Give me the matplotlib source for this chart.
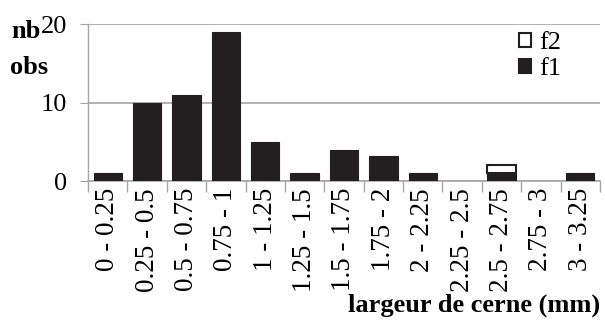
import matplotlib
matplotlib.use("Agg")
import matplotlib.pyplot as plt
import numpy as np

categories = ["0 - 0.25", "0.25 - 0.5", "0.5 - 0.75", "0.75 - 1", "1 - 1.25",
              "1.25 - 1.5", "1.5 - 1.75", "1.75 - 2", "2 - 2.25", "2.25 - 2.5",
              "2.5 - 2.75", "2.75 - 3", "3 - 3.25"]
f1 = [1, 10, 11, 19, 5, 1, 4, 3.2, 1, 0, 1, 0, 1]
f2 = [0, 0, 0, 0, 0, 0, 0, 0, 0, 0, 1, 0, 0]
yticks = [0, 10, 20]

plt.rcParams['font.family'] = ['Liberation Serif', 'DejaVu Serif']
fig = plt.figure(figsize=(6.05, 3.24), dpi=100)
ax = fig.add_axes([88/605, 1-181/324, (600-88)/605, (181-24)/324])

x = np.arange(len(categories))
w = 0.72
lw1 = [0.8 if v > 0 else 0 for v in f1]
lw2 = [1.5 if v > 0 else 0 for v in f2]
ax.bar(x, f1, width=w, color='#231f20', edgecolor='#231f20', linewidth=lw1, label='f1', zorder=3)
ax.bar(x, f2, width=w, bottom=f1, color='white', edgecolor='#231f20', linewidth=lw2, label='f2', zorder=3)

ax.set_xlim(-0.5, len(categories) - 0.5)
ax.set_ylim(0, 20)
ax.set_yticks(yticks)
ax.set_yticklabels([str(v) for v in yticks], fontsize=19)
ax.yaxis.grid(True, color='#a6a6a6', linewidth=1.2, zorder=0)
ax.set_axisbelow(True)
for s in ['top', 'right']:
    ax.spines[s].set_visible(False)
ax.spines['left'].set_color('#a6a6a6')
ax.spines['bottom'].set_color('#a6a6a6')
ax.spines['left'].set_linewidth(1.0)
ax.spines['bottom'].set_linewidth(1.2)
ax.tick_params(axis='y', length=6, color='#a6a6a6', pad=9)

ax.set_xticks(x)
ax.set_xticklabels(categories, rotation=90, fontsize=19.5)
ax.tick_params(axis='x', length=0, pad=5)
ax.set_xticks(np.arange(-0.5, len(categories)), minor=True)
ax.tick_params(axis='x', which='minor', length=8, color='#a6a6a6', width=1)

fig.text(11/605, 1-32/324, "nb", fontsize=19, fontweight='bold', ha='left', va='center')
fig.text(10/605, 1-68/324, "obs", fontsize=19, fontweight='bold', ha='left', va='center')
fig.text(600/605, 1-305/324, "largeur de cerne (mm)", fontsize=19, fontweight='bold', ha='right', va='center')

handles, labels = ax.get_legend_handles_labels()
leg = ax.legend(handles[::-1], labels[::-1], loc='upper right', bbox_to_anchor=(0.96, 1.064),
                frameon=False, fontsize=19, handlelength=0.45, handleheight=0.45,
                handletextpad=0.3, labelspacing=0.15, borderaxespad=0.3)
for h in leg.legend_handles:
    h.set_linewidth(1.5)

fig.savefig("out.png", dpi=100)
